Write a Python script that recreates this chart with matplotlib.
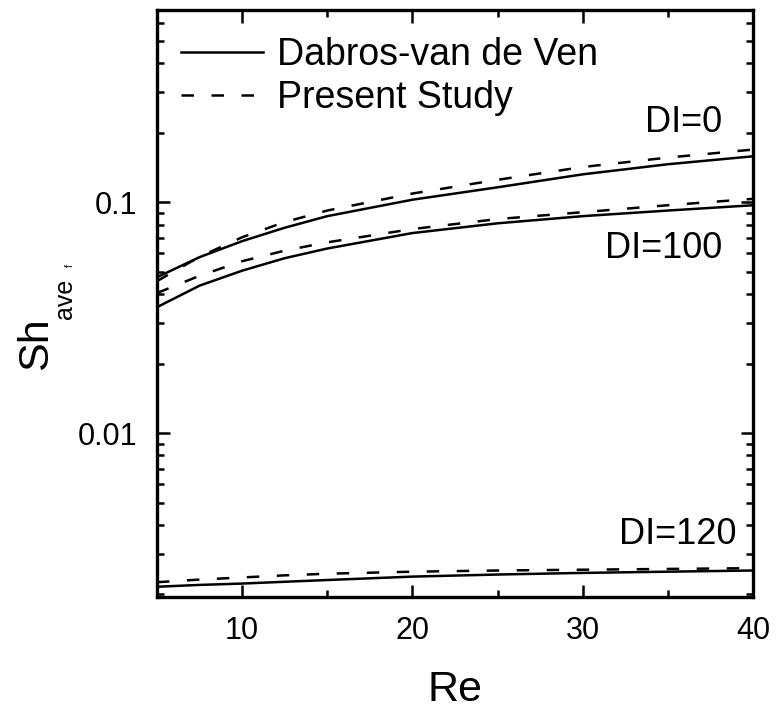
import numpy as np
import matplotlib
matplotlib.use("Agg")
import matplotlib.pyplot as plt
from matplotlib.lines import Line2D
from matplotlib.ticker import FixedLocator, NullFormatter, LogLocator

plt.rcParams["font.family"] = ["Liberation Sans", "DejaVu Sans"]

# Re values and Sh_ave,f
re = [5, 7.5, 10, 12.5, 15, 20, 25, 30, 35, 40]

dvdv_di0 = [0.0473, 0.0578, 0.0678, 0.0775, 0.087, 0.1025, 0.116, 0.132, 0.146, 0.158]
present_di0 = [0.0455, 0.058, 0.0705, 0.082, 0.092, 0.109, 0.125, 0.142, 0.156, 0.169]

dvdv_di100 = [0.0351, 0.0435, 0.0505, 0.0572, 0.063, 0.0735, 0.081, 0.087, 0.092, 0.097]
present_di100 = [0.0404, 0.048, 0.0555, 0.0617, 0.067, 0.0765, 0.0845, 0.0905, 0.097, 0.1034]

dvdv_di120 = [0.00216, 0.0022, 0.00223, 0.00227, 0.00231, 0.00239, 0.00244, 0.00248, 0.00251, 0.00254]
present_di120 = [0.00226, 0.00232, 0.00237, 0.00242, 0.00246, 0.00251, 0.00254, 0.00256, 0.00258, 0.0026]

W, H = 777, 712
fig = plt.figure(figsize=(W / 100, H / 100), dpi=100)
ax = fig.add_axes([0.202, 0.1615, 0.767, 0.8245])

LW = 1.8
DASH = (5, 7)
for y in (dvdv_di0, dvdv_di100, dvdv_di120):
    ax.plot(re, y, color="black", lw=LW, ls="-")
for y in (present_di0, present_di100, present_di120):
    ax.plot(re, y, color="black", lw=LW, ls=(0, DASH))

ax.set_yscale("log")
ax.set_xlim(5, 40)
ax.set_ylim(0.00195, 0.68)

ax.set_xticks([10, 20, 30, 40])
ax.xaxis.set_minor_locator(FixedLocator([15, 25, 35]))
ax.set_yticks([0.01, 0.1])
ax.set_yticklabels(["0.01", "0.1"])
ax.yaxis.set_minor_locator(LogLocator(base=10, subs=np.arange(2, 10)))
ax.yaxis.set_minor_formatter(NullFormatter())

ax.tick_params(which="both", direction="in", top=True, right=True, width=1.8)
ax.tick_params(which="major", length=9, labelsize=22, pad=14)
ax.tick_params(which="minor", length=5)
for s in ax.spines.values():
    s.set_linewidth(2.4)

ax.set_xlabel("Re", fontsize=31, labelpad=17)

# y label "Sh" with a deep Origin-style subscript "ave_f"
def ftext(px, py, s, size):
    fig.text(px / W, 1 - py / H, s, fontsize=size, rotation=90,
             rotation_mode="anchor", ha="center", va="baseline")

ftext(47, 344, "Sh", 31)
ftext(72, 298.5, "ave", 18)
ftext(73, 265.5, "f", 7)

ax.text(0.948, 0.8075, "DI=0", transform=ax.transAxes, fontsize=26, ha="right", va="center")
ax.text(0.948, 0.5945, "DI=100", transform=ax.transAxes, fontsize=26, ha="right", va="center")
ax.text(0.973, 0.107, "DI=120", transform=ax.transAxes, fontsize=26, ha="right", va="center")

handles = [
    Line2D([0], [0], color="black", lw=LW, ls="-"),
    Line2D([0], [0], color="black", lw=LW, ls=(0, DASH)),
]
ax.legend(handles, ["Dabros-van de Ven", "Present Study"], loc="upper left",
          bbox_to_anchor=(0.0144, 0.98), fontsize=27, frameon=False,
          handlelength=2.2, handletextpad=0.37, labelspacing=0.2,
          borderaxespad=0.0, borderpad=0.4)

fig.savefig("out.png", dpi=100)
